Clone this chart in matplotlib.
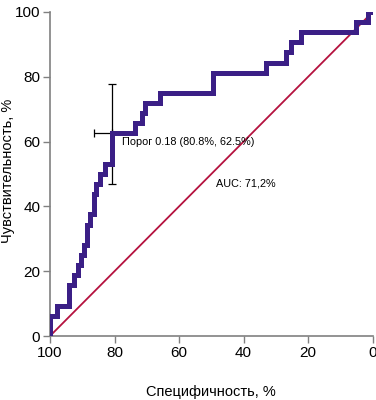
import matplotlib
matplotlib.use("Agg")
import matplotlib.pyplot as plt

fam = ['Liberation Sans', 'DejaVu Sans']

# ROC curve step points (specificity %, sensitivity %)
spec = [100, 100, 97.7, 97.7, 94, 94, 92.5, 92.5, 91.4, 91.4, 90.4, 90.4, 89.4, 89.4,
        88.5, 88.5, 87.5, 87.5, 86.3, 86.3, 85.6, 85.6, 84.5, 84.5, 82.9, 82.9,
        80.8, 80.8, 73.5, 73.5, 71.5, 71.5, 70.5, 70.5, 66, 66, 49.5, 49.5,
        33, 33, 27, 27, 25.3, 25.3, 22.2, 22.2, 5, 5, 1.5, 1.5, 0]
sens = [0, 6.25, 6.25, 9.4, 9.4, 15.6, 15.6, 18.75, 18.75, 21.9, 21.9, 25, 25, 28.1,
        28.1, 34.4, 34.4, 37.5, 37.5, 43.75, 43.75, 46.9, 46.9, 50, 50, 53.1,
        53.1, 62.5, 62.5, 65.6, 65.6, 68.75, 68.75, 71.9, 71.9, 75, 75, 81.25,
        81.25, 84.4, 84.4, 87.5, 87.5, 90.6, 90.6, 93.75, 93.75, 96.9, 96.9, 100, 100]

thr_spec, thr_sens = 80.8, 62.5
thr_xerr = [[0.0], [5.5]]
thr_yerr = [[15.7], [15.4]]
ticks = [100, 80, 60, 40, 20, 0]

fig = plt.figure(figsize=(3.76, 4.0), dpi=100)
ax = fig.add_axes([0.133, 0.16, 0.858, 0.81])

ax.plot([100, 0], [0, 100], color='#b5123f', lw=1.3, zorder=2)
ax.errorbar([thr_spec], [thr_sens], xerr=thr_xerr, yerr=thr_yerr, fmt='none',
            ecolor='black', elinewidth=0.9, capsize=3, capthick=0.9, zorder=3)
ax.plot(spec, sens, color='#3b1f86', lw=3.6, solid_joinstyle='miter', zorder=4)

ax.text(77.6, 59.8, 'Порог 0.18 (80.8%, 62.5%)', fontsize=7.8, family=fam, va='center', ha='left')
ax.text(48.5, 47, 'AUC: 71,2%', fontsize=7.8, family=fam, va='center', ha='left')

ax.set_xlim(100, 0)
ax.set_ylim(0, 100)
ax.set_xticks(ticks)
ax.set_yticks(ticks)
ax.set_xticklabels([str(t) for t in ticks], family=fam, fontsize=11)
ax.set_yticklabels([str(t) for t in ticks], family=fam, fontsize=11)
for s in ['top', 'right']:
    ax.spines[s].set_visible(False)
for s in ['left', 'bottom']:
    ax.spines[s].set_color('#808080')
    ax.spines[s].set_linewidth(1.2)
ax.tick_params(colors='#808080', labelcolor='black', length=5, width=1, pad=2)
ax.set_xlabel('Специфичность, %', family=fam, fontsize=10.5)
ax.set_ylabel('Чувствительность, %', family=fam, fontsize=10.5)
ax.xaxis.set_label_coords(0.498, -0.152)
ax.yaxis.set_label_coords(-0.108, 0.51)

fig.savefig('out.png', dpi=100)
